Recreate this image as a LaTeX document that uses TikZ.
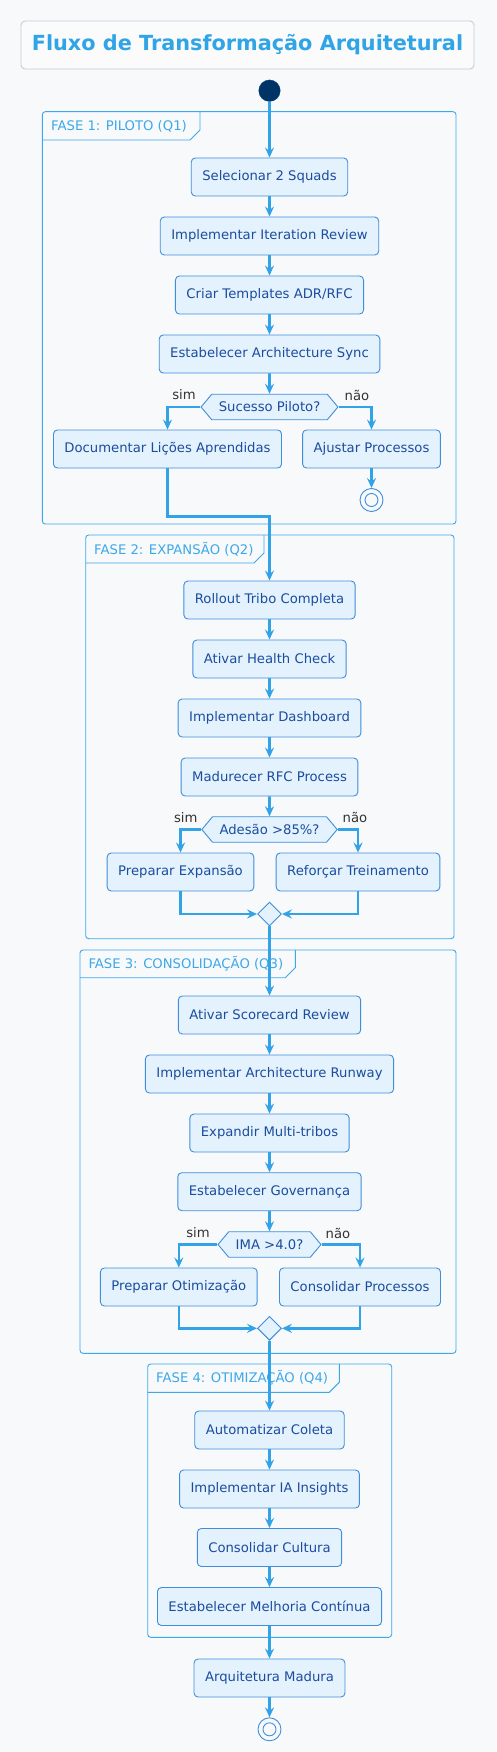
\documentclass[tikz,border=0pt]{standalone}
\usepackage{fontspec}
\setmainfont{DejaVu Sans}
\usetikzlibrary{arrows.meta,shapes.geometric,shapes.symbols}

\definecolor{pagebg}{HTML}{F8F9FA}
\definecolor{titleline}{HTML}{C8CBD0}
\definecolor{titleblue}{HTML}{2FA4E7}
\definecolor{flowblue}{HTML}{33A3E8}
\definecolor{boxfill}{HTML}{E3F2FD}
\definecolor{boxline}{HTML}{3F8EDB}
\definecolor{boxtext}{HTML}{1B4C9E}
\definecolor{phaseline}{HTML}{3CA8EA}
\definecolor{startfill}{HTML}{003366}
\definecolor{guardtext}{HTML}{333333}

\begin{document}
\begin{tikzpicture}[x=1pt, y=-1pt,
    actbox/.style={rectangle, rounded corners=4pt, draw=boxline, line width=0.9pt,
        fill=boxfill, text=boxtext, font=\fontsize{13.2}{15}\selectfont,
        inner xsep=11pt, inner ysep=0pt, minimum height=38pt},
    decision/.style={signal, signal to=west and east, signal pointer angle=100,
        draw=boxline, line width=0.9pt, fill=boxfill, text=boxtext,
        font=\fontsize{13.2}{15}\selectfont, inner xsep=7pt, inner ysep=0pt,
        minimum height=25.5pt},
    merge/.style={diamond, draw=boxline, line width=0.9pt, fill=boxfill,
        minimum size=24pt, inner sep=0pt},
    startdot/.style={circle, fill=startfill, draw=startfill!80!boxline,
        minimum size=21.5pt, inner sep=0pt},
    stopdot/.style={circle, draw=boxline, line width=0.9pt, fill=pagebg,
        minimum size=23pt, inner sep=0pt,
        path picture={\draw[boxline, line width=0.9pt]
            (path picture bounding box.center) circle (6.5pt);}},
    flow/.style={draw=flowblue, line width=2.6pt,
        -{Stealth[length=10pt, width=9pt, inset=3.5pt]}},
    guard/.style={text=guardtext, font=\fontsize{13.2}{15}\selectfont, inner sep=0pt},
    phaseframe/.style={draw=phaseline, line width=0.9pt},
    phaselabel/.style={text=phaseline, font=\fontsize{13.2}{15}\selectfont,
        anchor=west, inner sep=0pt}]

    % Page and title
    \useasboundingbox (0,0) rectangle (496,1752);
    \fill[pagebg] (0,0) rectangle (496,1752);
    \node[draw=titleline, line width=0.9pt, rounded corners=4pt, fill=pagebg!60!white,
        minimum width=453pt, minimum height=48pt, text=titleblue,
        font=\bfseries\fontsize{20.8}{24}\selectfont] (title) at (247.5,45)
        {Fluxo de Transformação Arquitetural};

    % Phase frames
    \draw[phaseframe, rounded corners=3pt] (42.3,111.7) rectangle (456,524);
    \draw[phaseframe] (42.3,140) -- (190,140) -- (200,130) -- (200,111.7);
    \node[phaselabel] (f1) at (51,126) {FASE 1: PILOTO (Q1)};

    \draw[phaseframe, rounded corners=3pt] (85.7,535) rectangle (454,938.7);
    \draw[phaseframe] (85.7,563) -- (254,563) -- (264,553) -- (264,535);
    \node[phaselabel] (f2) at (94,549) {FASE 2: EXPANSÃO (Q2)};

    \draw[phaseframe, rounded corners=3pt] (80,950) rectangle (456,1353.3);
    \draw[phaseframe] (80,977.7) -- (285.3,977.7) -- (295.3,967.7) -- (295.3,950);
    \node[phaselabel] (f3) at (88.3,964) {FASE 3: CONSOLIDAÇÃO (Q3)};

    \draw[phaseframe, rounded corners=3pt] (147.7,1364) rectangle (391.7,1637.3);
    \draw[phaseframe] (147.7,1392.3) -- (329.3,1392.3) -- (339.3,1382.3) -- (339.3,1364);
    \node[phaselabel] (f4) at (156,1378) {FASE 4: OTIMIZAÇÃO (Q4)};

    % Start
    \node[startdot] (start) at (269.5,90.7) {};

    % Fase 1
    \node[actbox] (s1) at (269.5,177) {Selecionar 2 Squads};
    \node[actbox] (s2) at (269.5,236) {Implementar Iteration Review};
    \node[actbox] (s3) at (269.5,295) {Criar Templates ADR/RFC};
    \node[actbox] (s4) at (269.5,354) {Estabelecer Architecture Sync};
    \node[decision] (d1) at (269.5,407) {Sucesso Piloto?};
    \node[guard] (g1s) at (184,395) {sim};
    \node[guard] (g1n) at (357,395) {não};
    \node[actbox] (s5) at (167.5,449) {Documentar Lições Aprendidas};
    \node[actbox] (s6) at (371.5,449) {Ajustar Processos};
    \node[stopdot] (stop1) at (371.5,500) {};

    % Fase 2
    \node[actbox] (e1) at (269.5,600) {Rollout Tribo Completa};
    \node[actbox] (e2) at (269.5,659) {Ativar Health Check};
    \node[actbox] (e3) at (269.5,718) {Implementar Dashboard};
    \node[actbox] (e4) at (269.5,777) {Madurecer RFC Process};
    \node[decision] (d2) at (269.5,829.5) {Adesão >85\%?};
    \node[guard] (g2s) at (185.7,817.7) {sim};
    \node[guard] (g2n) at (355,817.7) {não};
    \node[actbox] (e5) at (180.5,872) {Preparar Expansão};
    \node[actbox] (e6) at (358,872) {Reforçar Treinamento};
    \node[merge] (m2) at (269.5,914) {};

    % Fase 3
    \node[actbox] (c1) at (269.5,1015) {Ativar Scorecard Review};
    \node[actbox] (c2) at (269.5,1074) {Implementar Architecture Runway};
    \node[actbox] (c3) at (269.5,1133) {Expandir Multi-tribos};
    \node[actbox] (c4) at (269.5,1191.7) {Estabelecer Governança};
    \node[decision] (d3) at (269.5,1244.5) {IMA >4.0?};
    \node[guard] (g3s) at (198,1233) {sim};
    \node[guard] (g3n) at (338,1233) {não};
    \node[actbox] (c5) at (178.8,1287) {Preparar Otimização};
    \node[actbox] (c6) at (360,1287) {Consolidar Processos};
    \node[merge] (m3) at (269.5,1328.3) {};

    % Fase 4
    \node[actbox] (o1) at (269.5,1430) {Automatizar Coleta};
    \node[actbox] (o2) at (269.5,1489) {Implementar IA Insights};
    \node[actbox] (o3) at (269.5,1547.5) {Consolidar Cultura};
    \node[actbox] (o4) at (269.5,1606.5) {Estabelecer Melhoria Contínua};

    % End
    \node[actbox] (fin) at (269.5,1678) {Arquitetura Madura};
    \node[stopdot] (stop2) at (269.5,1729.3) {};

    % Flow
    \draw[flow] (start) -- (s1);
    \draw[flow] (s1) -- (s2);
    \draw[flow] (s2) -- (s3);
    \draw[flow] (s3) -- (s4);
    \draw[flow] (s4) -- (d1);
    \draw[flow] (d1.west) -| (s5.north);
    \draw[flow] (d1.east) -| (s6.north);
    \draw[flow] (s6) -- (stop1);
    \draw[flow] (s5.south) -- ++(0,48) -| (e1.north);

    \draw[flow] (e1) -- (e2);
    \draw[flow] (e2) -- (e3);
    \draw[flow] (e3) -- (e4);
    \draw[flow] (e4) -- (d2);
    \draw[flow] (d2.west) -| (e5.north);
    \draw[flow] (d2.east) -| (e6.north);
    \draw[flow] (e5.south) |- (m2.west);
    \draw[flow] (e6.south) |- (m2.east);
    \draw[flow] (m2) -- (c1);

    \draw[flow] (c1) -- (c2);
    \draw[flow] (c2) -- (c3);
    \draw[flow] (c3) -- (c4);
    \draw[flow] (c4) -- (d3);
    \draw[flow] (d3.west) -| (c5.north);
    \draw[flow] (d3.east) -| (c6.north);
    \draw[flow] (c5.south) |- (m3.west);
    \draw[flow] (c6.south) |- (m3.east);
    \draw[flow] (m3) -- (o1);

    \draw[flow] (o1) -- (o2);
    \draw[flow] (o2) -- (o3);
    \draw[flow] (o3) -- (o4);
    \draw[flow] (o4) -- (fin);
    \draw[flow] (fin) -- (stop2);
\end{tikzpicture}
\end{document}
